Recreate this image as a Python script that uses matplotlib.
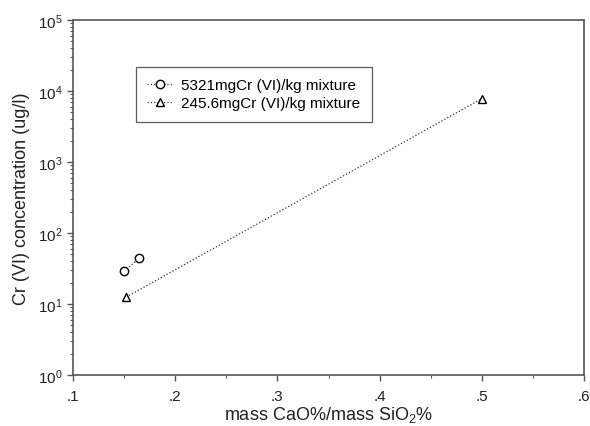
import numpy as np
import matplotlib
matplotlib.use("Agg")
import matplotlib.pyplot as plt
from matplotlib.ticker import FixedLocator, LogLocator, NullFormatter

plt.rcParams['font.family'] = ['Liberation Sans', 'DejaVu Sans']
plt.rcParams['mathtext.fontset'] = 'custom'
plt.rcParams['mathtext.rm'] = 'Liberation Sans'
plt.rcParams['mathtext.it'] = 'Liberation Sans:italic'

# data
ratio_hi = [0.150, 0.165]
conc_hi = [29, 44]
ratio_lo = [0.152, 0.500]
conc_lo = [12.5, 7800]
labels = ['5321mgCr (VI)/kg mixture', '245.6mgCr (VI)/kg mixture']
x_ticks = [0.1, 0.2, 0.3, 0.4, 0.5, 0.6]
x_tick_labels = ['.1', '.2', '.3', '.4', '.5', '.6']


def main():
	fig = plt.figure(figsize=(5.9, 4.27), dpi=100)
	ax = fig.add_axes([73/590, 1 - 376/427, 511/590, 355/427])

	ax.plot(ratio_hi, conc_hi, linestyle=':', color='#333333', linewidth=0.9,
		marker='o', markersize=6, markerfacecolor='white', markeredgecolor='black',
		markeredgewidth=1.0, label=labels[0])
	ax.plot(ratio_lo, conc_lo, linestyle=':', color='#333333', linewidth=0.9,
		marker='^', markersize=6, markerfacecolor='white', markeredgecolor='black',
		markeredgewidth=1.0, label=labels[1])

	ax.set_yscale('log')
	ax.set_ylim(1, 1e5)
	ax.set_xlim(0.1, 0.6)

	ax.xaxis.set_major_locator(FixedLocator(x_ticks))
	ax.set_xticklabels(x_tick_labels)
	ax.xaxis.set_minor_locator(FixedLocator([0.15, 0.25, 0.35, 0.45, 0.55]))
	ax.yaxis.set_major_locator(LogLocator(base=10, numticks=10))
	ax.yaxis.set_minor_locator(LogLocator(base=10, subs=np.arange(2, 10), numticks=10))
	ax.yaxis.set_minor_formatter(NullFormatter())

	for s in ax.spines.values():
		s.set_color('#555555')
		s.set_linewidth(1.2)
	ax.tick_params(which='major', direction='out', length=4, width=1, color='#555555',
		labelsize=11, labelcolor='#222222')
	ax.tick_params(which='minor', direction='out', length=2.5, width=0.8, color='#555555')
	ax.tick_params(axis='x', which='major', pad=6)

	ax.set_xlabel('mass CaO%/mass SiO$_2$%', fontsize=13, color='#222222', labelpad=1)
	ax.set_ylabel('Cr (VI) concentration (ug/l)', fontsize=13, color='#222222', labelpad=6)

	leg = ax.legend(loc='upper left', bbox_to_anchor=(0.123, 0.868), borderaxespad=0,
		fontsize=11, frameon=True, fancybox=False, edgecolor='#333333', handlelength=1.6,
		handletextpad=0.6, borderpad=0.75, labelspacing=0.25)
	leg.get_frame().set_linewidth(0.9)

	fig.savefig('out.png', dpi=100)


if __name__ == "__main__":
	main()
